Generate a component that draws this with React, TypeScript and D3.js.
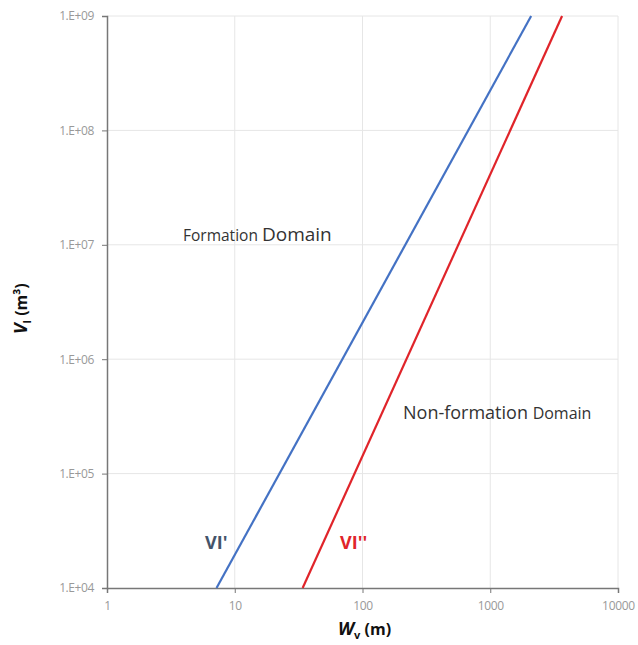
import React, { useEffect, useRef } from 'react';
import * as d3 from 'd3';

// series endpoints: [Wv (m), Vl (m3)]
const vlPrimeW = [7.2, 2090];
const vlPrimeV = [1e4, 1e9];
const vlDoubleW = [34, 3650];
const vlDoubleV = [1e4, 1e9];

const xTicks = [1, 10, 100, 1000, 10000];
const yTicks = [1e4, 1e5, 1e6, 1e7, 1e8, 1e9];
const yTickLabels = ['1.E+04', '1.E+05', '1.E+06', '1.E+07', '1.E+08', '1.E+09'];

const App = () => {
  const svgRef = useRef<SVGSVGElement>(null);

  useEffect(() => {
    const svg = d3.select(svgRef.current);
    svg.selectAll('*').remove();

    const left = 107, right = 618, top = 16, bottom = 588;
    const x = d3.scaleLog().domain([1, 10000]).range([left, right]);
    const y = d3.scaleLog().domain([1e4, 1e9]).range([bottom, top]);

    const font = "'Open Sans', sans-serif";

    // grid
    const grid = svg.append('g').attr('stroke', '#e6e6e6').attr('stroke-width', 1);
    xTicks.slice(1).forEach((t) => {
      grid.append('line').attr('x1', x(t)).attr('x2', x(t)).attr('y1', top).attr('y2', bottom);
    });
    yTicks.slice(1).forEach((t) => {
      grid.append('line').attr('x1', left).attr('x2', right).attr('y1', y(t)).attr('y2', y(t));
    });

    // axes
    const xAxis = d3.axisBottom(x).tickValues(xTicks).tickFormat((d) => String(d)).tickSize(5).tickPadding(8);
    const gx = svg.append('g').attr('transform', `translate(0,${bottom})`).call(xAxis);
    gx.select('.domain').attr('stroke', '#777').attr('stroke-width', 1.5);
    gx.selectAll('line').attr('stroke', '#777');
    gx.selectAll('text').attr('fill', '#999').style('font-family', font).style('font-size', '12px').style('letter-spacing', '-0.3px');

    const yAxis = d3.axisLeft(y).tickValues(yTicks).tickFormat((_, i) => yTickLabels[i]).tickSize(5).tickPadding(8);
    const gy = svg.append('g').attr('transform', `translate(${left},0)`).call(yAxis);
    gy.select('.domain').attr('stroke', '#777').attr('stroke-width', 1.5);
    gy.selectAll('line').attr('stroke', '#777');
    gy.selectAll('text').attr('fill', '#999').style('font-family', font).style('font-size', '12px').style('letter-spacing', '-0.4px');

    // lines
    const line = d3.line<[number, number]>().x((d) => x(d[0])).y((d) => y(d[1]));
    const series = [
      { w: vlPrimeW, v: vlPrimeV, color: '#4472c4' },
      { w: vlDoubleW, v: vlDoubleV, color: '#e0242a' },
    ];
    series.forEach((s) => {
      svg.append('path')
        .datum(s.w.map((w, i) => [w, s.v[i]] as [number, number]))
        .attr('d', line)
        .attr('fill', 'none')
        .attr('stroke', s.color)
        .attr('stroke-width', 2.2);
    });

    // region labels
    const t1 = svg.append('text').attr('x', 183).attr('y', 241).attr('fill', '#333').style('font-family', font);
    t1.append('tspan').style('font-size', '15.5px').text('Formation ');
    t1.append('tspan').style('font-size', '19px').text('Domain');

    const t2 = svg.append('text').attr('x', 403).attr('y', 419).attr('fill', '#333').style('font-family', font);
    t2.append('tspan').style('font-size', '18px').text('Non-formation ');
    t2.append('tspan').style('font-size', '16px').text('Domain');

    svg.append('text').attr('x', 205).attr('y', 549).attr('fill', '#44546a')
      .style('font-family', font).style('font-size', '18px').style('font-weight', 'bold').text("VI'");
    svg.append('text').attr('x', 340).attr('y', 549).attr('fill', '#e0242a')
      .style('font-family', font).style('font-size', '18px').style('font-weight', 'bold').text("VI''");

    // axis titles
    const xt = svg.append('text').attr('x', 338).attr('y', 635).attr('fill', '#111')
      .style('font-family', font).style('font-size', '16px').style('font-weight', 'bold');
    xt.append('tspan').style('font-style', 'italic').style('font-size', '18px').text('W');
    xt.append('tspan').attr('dy', 4).style('font-size', '11px').text('v');
    xt.append('tspan').attr('dy', -4).text(' (m)');

    const yt = svg.append('text').attr('transform', 'translate(27,334) rotate(-90)').attr('fill', '#111')
      .style('font-family', font).style('font-size', '16px').style('font-weight', 'bold');
    yt.append('tspan').style('font-style', 'italic').style('font-size', '18px').text('V');
    yt.append('tspan').attr('dy', 4).style('font-size', '11px').text('l');
    yt.append('tspan').attr('dy', -4).text(' (m³)');
  }, []);

  return (
    <svg ref={svgRef} width={638} height={645}
      style={{ position: 'absolute', left: 0, top: 0, background: '#fff' }}></svg>
  );
};

export default App;
